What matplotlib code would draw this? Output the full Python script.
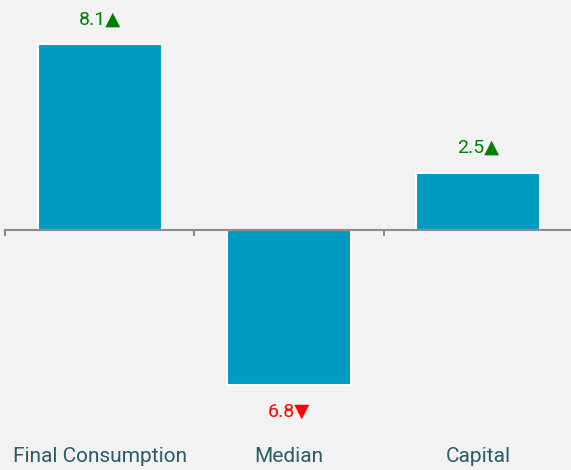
import matplotlib.pyplot as plt
import numpy as np

categories = ["Final Consumption", "Median", "Capital"]
values = [8.1, -6.8, 2.5]
labels = ["8.1▲", "6.8▼", "2.5▲"]

BG = "#f2f2f2"
BAR = "#009bc0"
TEXT = "#2b5b6b"
FONT = ["Roboto", "DejaVu Sans"]

fig = plt.figure(figsize=(5.71, 4.70), dpi=100, facecolor=BG)
ax = fig.add_axes([5 / 571, 80 / 470, 568 / 571, 360 / 470])
ax.set_facecolor(BG)

x = np.arange(len(categories))
bars = ax.bar(x, values, width=0.655, color=BAR, edgecolor="white", linewidth=1.5, zorder=2)

ax.set_xlim(-0.5, 2.5)
ax.set_ylim(-7.0, 8.73)

for s in ["top", "left", "right"]:
    ax.spines[s].set_visible(False)
ax.spines["bottom"].set_position(("data", 0))
ax.spines["bottom"].set_color("#8c8c8c")
ax.spines["bottom"].set_linewidth(1.5)
ax.spines["bottom"].set_zorder(3)

ax.set_yticks([])
ax.set_xticks(np.arange(-0.5, len(categories), 1.0))
ax.set_xticklabels([])
ax.tick_params(axis="x", direction="out", length=4, width=1.5, color="#8c8c8c")

# category names sit well below the plot, not at the zero line
trans = ax.get_xaxis_transform()
for xi, cat in zip(x, categories):
    ax.text(xi, -67 / 360, cat, transform=trans, ha="center", va="center",
            fontsize=15, color=TEXT, family=FONT)

for b, v, lab in zip(bars, values, labels):
    color = "green" if v > 0 else "red"
    off = 25 if v > 0 else -26
    ax.annotate(lab, (b.get_x() + b.get_width() / 2, v), xytext=(0, off * 0.72),
                textcoords="offset points", ha="center", va="center",
                fontsize=14, color=color, family=FONT)

fig.savefig("out.png", dpi=100, facecolor=BG)
